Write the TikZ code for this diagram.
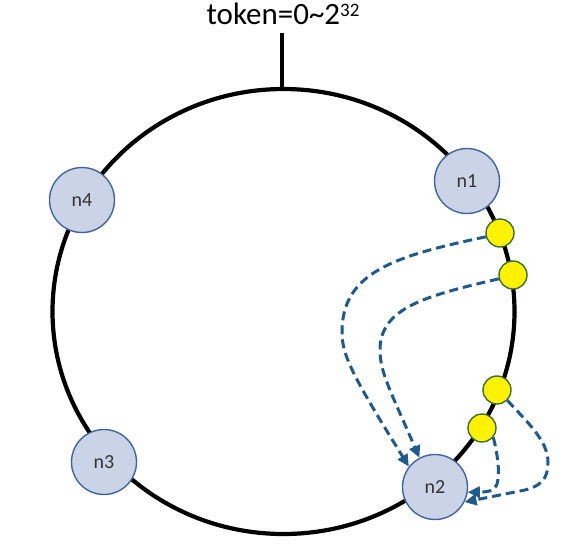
\documentclass[tikz,border=0pt]{standalone}
\usepackage{fontspec}
\setmainfont{Carlito}
\usetikzlibrary{arrows.meta}
\definecolor{nodefill}{HTML}{CBD3E6}
\definecolor{nodeline}{HTML}{3F659E}
\definecolor{dotline}{HTML}{3B6E34}
\definecolor{arrowblue}{HTML}{1F5A8C}
\tikzset{
  server/.style={circle,draw=nodeline,fill=nodefill,line width=1.4pt,minimum size=65pt,inner sep=0pt,font=\fontsize{20}{20}\selectfont,text=black!80},
  keydot/.style={circle,draw=dotline,fill=yellow,line width=1.4pt,minimum size=28pt,inner sep=0pt},
  ring/.style={line width=4.2pt,black},
  flow/.style={arrowblue,line width=3pt,dash pattern=on 9pt off 5pt,-{Triangle[length=12pt,width=11pt]}}
}
\begin{document}
\begin{tikzpicture}[x=1pt,y=-1pt]
\useasboundingbox (0,0) rectangle (567,544);
% ring
\draw[ring] (283.5,311.5) ellipse [x radius=231pt, y radius=222.5pt];
\coordinate (top) at (282,89);
\coordinate (tickend) at (282,33);
\draw[ring] (top) -- (tickend);
\node[anchor=base,font=\fontsize{31}{31}\selectfont,inner sep=0pt] (title) at (283,24) {token=0\textasciitilde 2\raisebox{7.5pt}{\fontsize{19}{19}\selectfont 32}};
% servers
\node[server] (n1) at (467,181) {n1};
\node[server] (n4) at (82,200) {n4};
\node[server] (n3) at (104,462) {n3};
\node[server] (n2) at (435,487) {n2};
% keys
\node[keydot] (y1) at (500,233) {};
\node[keydot] (y2) at (513,275) {};
\node[keydot] (y3) at (497,390) {};
\node[keydot] (y4) at (482,428) {};
% flows
\draw[flow] (y1.195) .. controls (395,256) and (342,272) .. (342,332) .. controls (342,355) and (352,375) .. (n2.142);
\draw[flow] (y2.195) .. controls (425,296) and (380,308) .. (380,350) .. controls (380,372) and (390,390) .. (n2.118);
\draw[flow] (y3.-45) .. controls (525,420) and (548,440) .. (548,462) .. controls (548,480) and (540,486) .. (525,490) -- (n2.-27);
\draw[flow] (y4.-40) .. controls (498,455) and (500,475) .. (497,484) .. controls (494,492) and (486,492) .. (n2.-9);
\end{tikzpicture}
\end{document}
